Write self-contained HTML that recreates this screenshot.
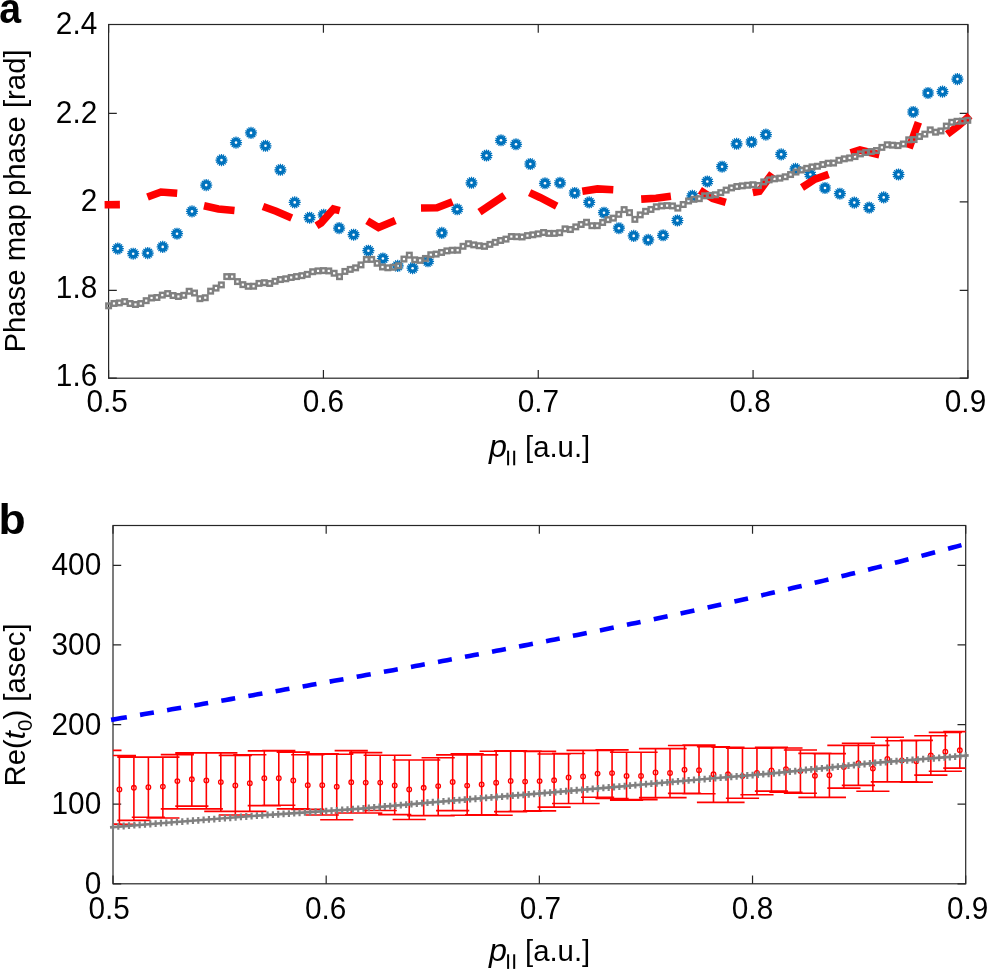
<!DOCTYPE html><html><head><meta charset="utf-8"><title>Figure</title><style>html,body{margin:0;padding:0;background:#fff;}svg{display:block;}text{-webkit-font-smoothing:antialiased;}</style></head><body>
<svg width="987" height="970" viewBox="0 0 987 970">
<defs>
<clipPath id="cb"><rect x="113" y="525.5" width="852.7" height="358.3"/></clipPath>
<g id="gm"><polygon points="-0.60,-6.07 0.60,-6.07 0.61,-4.76 1.26,-4.63 1.77,-5.84 2.88,-5.38 2.39,-4.16 2.93,-3.80 3.87,-4.72 4.72,-3.87 3.80,-2.93 4.16,-2.39 5.38,-2.88 5.84,-1.77 4.63,-1.26 4.76,-0.61 6.07,-0.60 6.07,0.60 4.76,0.61 4.63,1.26 5.84,1.77 5.38,2.88 4.16,2.39 3.80,2.93 4.72,3.87 3.87,4.72 2.93,3.80 2.39,4.16 2.88,5.38 1.77,5.84 1.26,4.63 0.61,4.76 0.60,6.07 -0.60,6.07 -0.61,4.76 -1.26,4.63 -1.77,5.84 -2.88,5.38 -2.39,4.16 -2.93,3.80 -3.87,4.72 -4.72,3.87 -3.80,2.93 -4.16,2.39 -5.38,2.88 -5.84,1.77 -4.63,1.26 -4.76,0.61 -6.07,0.60 -6.07,-0.60 -4.76,-0.61 -4.63,-1.26 -5.84,-1.77 -5.38,-2.88 -4.16,-2.39 -3.80,-2.93 -4.72,-3.87 -3.87,-4.72 -2.93,-3.80 -2.39,-4.16 -2.88,-5.38 -1.77,-5.84 -1.26,-4.63 -0.61,-4.76" fill="#0072BD"/><circle r="1.3" fill="#fff"/></g>
</defs>
<rect width="987" height="970" fill="#fff"/>
<g stroke="#262626" stroke-width="1.2" fill="none">
<rect x="108.6" y="24.5" width="859.3" height="353.7"/>
<path d="M108.6,378.2v-8.2M108.6,24.5v8.2M323.42,378.2v-8.2M323.42,24.5v8.2M538.25,378.2v-8.2M538.25,24.5v8.2M753.07,378.2v-8.2M753.07,24.5v8.2M967.9,378.2v-8.2M967.9,24.5v8.2M108.6,24.5h8.2M967.9,24.5h-8.2M108.6,113.3h8.2M967.9,113.3h-8.2M108.6,201.8h8.2M967.9,201.8h-8.2M108.6,290.3h8.2M967.9,290.3h-8.2M108.6,378.2h8.2M967.9,378.2h-8.2"/>
</g>
<g stroke="#262626" stroke-width="1.2" fill="none">
<rect x="113" y="525.5" width="852.7" height="358.3"/>
<path d="M113,883.8v-8.2M113,525.5v8.2M326.18,883.8v-8.2M326.18,525.5v8.2M539.35,883.8v-8.2M539.35,525.5v8.2M752.53,883.8v-8.2M752.53,525.5v8.2M965.7,883.8v-8.2M965.7,525.5v8.2M113,883.8h8.2M965.7,883.8h-8.2M113,804.18h8.2M965.7,804.18h-8.2M113,724.56h8.2M965.7,724.56h-8.2M113,644.93h8.2M965.7,644.93h-8.2M113,565.31h8.2M965.7,565.31h-8.2"/>
</g>
<g>
<use href="#gm" x="117.8" y="248.6"/>
<use href="#gm" x="133.2" y="253.7"/>
<use href="#gm" x="147.7" y="253.1"/>
<use href="#gm" x="162.7" y="246.9"/>
<use href="#gm" x="177" y="233.7"/>
<use href="#gm" x="192" y="211.4"/>
<use href="#gm" x="206.2" y="185.1"/>
<use href="#gm" x="221.5" y="160.1"/>
<use href="#gm" x="236" y="142.6"/>
<use href="#gm" x="251" y="132.9"/>
<use href="#gm" x="265.5" y="145.8"/>
<use href="#gm" x="280.4" y="169.8"/>
<use href="#gm" x="294.7" y="202.4"/>
<use href="#gm" x="309.6" y="217.7"/>
<use href="#gm" x="323.7" y="214.9"/>
<use href="#gm" x="339.1" y="228.1"/>
<use href="#gm" x="353.6" y="234.7"/>
<use href="#gm" x="368.4" y="250.7"/>
<use href="#gm" x="382.9" y="258.5"/>
<use href="#gm" x="397.7" y="265.9"/>
<use href="#gm" x="412.6" y="268.2"/>
<use href="#gm" x="428" y="261.3"/>
<use href="#gm" x="441.8" y="232.9"/>
<use href="#gm" x="457.2" y="209.3"/>
<use href="#gm" x="471.5" y="182.8"/>
<use href="#gm" x="486.5" y="155.5"/>
<use href="#gm" x="501" y="140.3"/>
<use href="#gm" x="516" y="144.3"/>
<use href="#gm" x="530.3" y="164"/>
<use href="#gm" x="545" y="183.3"/>
<use href="#gm" x="560" y="182.8"/>
<use href="#gm" x="574.7" y="193"/>
<use href="#gm" x="589.2" y="202.4"/>
<use href="#gm" x="604" y="212.7"/>
<use href="#gm" x="618.9" y="228.2"/>
<use href="#gm" x="633.7" y="235.9"/>
<use href="#gm" x="648.2" y="239.9"/>
<use href="#gm" x="663.1" y="235.3"/>
<use href="#gm" x="677.4" y="220.5"/>
<use href="#gm" x="692.4" y="195.8"/>
<use href="#gm" x="707.3" y="181.5"/>
<use href="#gm" x="722.1" y="166.7"/>
<use href="#gm" x="736.6" y="143.8"/>
<use href="#gm" x="751.5" y="142"/>
<use href="#gm" x="765.9" y="134.6"/>
<use href="#gm" x="781.2" y="154.4"/>
<use href="#gm" x="795.5" y="168.9"/>
<use href="#gm" x="810.3" y="174.5"/>
<use href="#gm" x="825" y="188"/>
<use href="#gm" x="839.9" y="193.7"/>
<use href="#gm" x="854.3" y="202.6"/>
<use href="#gm" x="869.2" y="207.6"/>
<use href="#gm" x="883.7" y="197.4"/>
<use href="#gm" x="898.5" y="174.5"/>
<use href="#gm" x="913.2" y="112"/>
<use href="#gm" x="928" y="93"/>
<use href="#gm" x="942.5" y="91.6"/>
<use href="#gm" x="957.4" y="79.1"/>
</g>
<g fill="none" stroke="#FF0000" stroke-width="7.6" stroke-linecap="butt" stroke-linejoin="miter">
<polyline points="104.6,204.8 119.9,204.6"/>
<polyline points="147.5,197 161,192 177.2,193.3"/>
<polyline points="204,205.8 218.4,209 234.5,210.5"/>
<polyline points="263,206.5 276.1,211.3 291.7,217.9"/>
<polyline points="316.5,225.8 321,223 333.5,209 339.8,210.6"/>
<polyline points="367.2,220.8 378.5,227.6 395.3,220.6"/>
<polyline points="421,208 437,207.8 452.5,201.7"/>
<polyline points="479.5,212.1 504.5,195.4"/>
<polyline points="529.6,192.6 540,197.5 556.7,206.2"/>
<polyline points="582.3,191.3 597.5,188.9 613.3,189.8"/>
<polyline points="641.2,199.1 656,198.2 670.9,196.3"/>
<polyline points="699.9,190.2 712.8,198.6 725.8,202.3"/>
<polyline points="752.8,192.5 759.3,191.2 772.2,173.5"/>
<polyline points="802,187.5 815,179.1 828.6,174.4"/>
<polyline points="850.6,152.8 859.9,150 879.4,154.7"/>
<polyline points="909.1,148.2 918.4,122.2"/>
<polyline points="947.2,134.3 958.3,125.9 970,115.7"/>
</g>
<g fill="none" stroke="#808080" stroke-width="2.4">
<rect x="106.3" y="303.51" width="4.6" height="4.6"/>
<rect x="111.67" y="301.16" width="4.6" height="4.6"/>
<rect x="117.04" y="300.61" width="4.6" height="4.6"/>
<rect x="122.41" y="299.28" width="4.6" height="4.6"/>
<rect x="127.78" y="301.21" width="4.6" height="4.6"/>
<rect x="133.15" y="302.19" width="4.6" height="4.6"/>
<rect x="138.52" y="301.23" width="4.6" height="4.6"/>
<rect x="143.89" y="298.37" width="4.6" height="4.6"/>
<rect x="149.26" y="295.69" width="4.6" height="4.6"/>
<rect x="154.63" y="295.21" width="4.6" height="4.6"/>
<rect x="160" y="292.79" width="4.6" height="4.6"/>
<rect x="165.37" y="291.26" width="4.6" height="4.6"/>
<rect x="170.74" y="293.21" width="4.6" height="4.6"/>
<rect x="176.11" y="294.18" width="4.6" height="4.6"/>
<rect x="181.48" y="293.01" width="4.6" height="4.6"/>
<rect x="186.85" y="288.96" width="4.6" height="4.6"/>
<rect x="192.22" y="290.72" width="4.6" height="4.6"/>
<rect x="197.59" y="296.38" width="4.6" height="4.6"/>
<rect x="202.96" y="295.43" width="4.6" height="4.6"/>
<rect x="208.33" y="288.86" width="4.6" height="4.6"/>
<rect x="213.7" y="285.8" width="4.6" height="4.6"/>
<rect x="219.07" y="282.59" width="4.6" height="4.6"/>
<rect x="224.44" y="274.3" width="4.6" height="4.6"/>
<rect x="229.81" y="274.3" width="4.6" height="4.6"/>
<rect x="235.18" y="279.28" width="4.6" height="4.6"/>
<rect x="240.55" y="282.34" width="4.6" height="4.6"/>
<rect x="245.92" y="284" width="4.6" height="4.6"/>
<rect x="251.29" y="283.94" width="4.6" height="4.6"/>
<rect x="256.66" y="281.09" width="4.6" height="4.6"/>
<rect x="262.03" y="280.38" width="4.6" height="4.6"/>
<rect x="267.4" y="281.17" width="4.6" height="4.6"/>
<rect x="272.77" y="278.96" width="4.6" height="4.6"/>
<rect x="278.14" y="277.25" width="4.6" height="4.6"/>
<rect x="283.51" y="276.48" width="4.6" height="4.6"/>
<rect x="288.88" y="275.17" width="4.6" height="4.6"/>
<rect x="294.25" y="274.28" width="4.6" height="4.6"/>
<rect x="299.62" y="273.36" width="4.6" height="4.6"/>
<rect x="304.99" y="272.05" width="4.6" height="4.6"/>
<rect x="310.36" y="269.42" width="4.6" height="4.6"/>
<rect x="315.73" y="268.6" width="4.6" height="4.6"/>
<rect x="321.1" y="268.3" width="4.6" height="4.6"/>
<rect x="326.47" y="268.63" width="4.6" height="4.6"/>
<rect x="331.84" y="270.94" width="4.6" height="4.6"/>
<rect x="337.21" y="274.39" width="4.6" height="4.6"/>
<rect x="342.58" y="269.13" width="4.6" height="4.6"/>
<rect x="347.95" y="267.1" width="4.6" height="4.6"/>
<rect x="353.32" y="265.54" width="4.6" height="4.6"/>
<rect x="358.69" y="262.6" width="4.6" height="4.6"/>
<rect x="364.06" y="257.1" width="4.6" height="4.6"/>
<rect x="369.43" y="257.1" width="4.6" height="4.6"/>
<rect x="374.8" y="260.96" width="4.6" height="4.6"/>
<rect x="380.17" y="264.69" width="4.6" height="4.6"/>
<rect x="385.54" y="265.5" width="4.6" height="4.6"/>
<rect x="390.91" y="264.96" width="4.6" height="4.6"/>
<rect x="396.28" y="263.49" width="4.6" height="4.6"/>
<rect x="401.65" y="256.76" width="4.6" height="4.6"/>
<rect x="407.02" y="252.86" width="4.6" height="4.6"/>
<rect x="412.39" y="257.49" width="4.6" height="4.6"/>
<rect x="417.76" y="258.1" width="4.6" height="4.6"/>
<rect x="423.13" y="256.14" width="4.6" height="4.6"/>
<rect x="428.5" y="252.44" width="4.6" height="4.6"/>
<rect x="433.87" y="251.79" width="4.6" height="4.6"/>
<rect x="439.24" y="250.15" width="4.6" height="4.6"/>
<rect x="444.61" y="248.58" width="4.6" height="4.6"/>
<rect x="449.98" y="247.93" width="4.6" height="4.6"/>
<rect x="455.35" y="247.9" width="4.6" height="4.6"/>
<rect x="460.72" y="243.99" width="4.6" height="4.6"/>
<rect x="466.09" y="241.42" width="4.6" height="4.6"/>
<rect x="471.46" y="242.57" width="4.6" height="4.6"/>
<rect x="476.83" y="243.46" width="4.6" height="4.6"/>
<rect x="482.2" y="244.05" width="4.6" height="4.6"/>
<rect x="487.57" y="242.08" width="4.6" height="4.6"/>
<rect x="492.94" y="240" width="4.6" height="4.6"/>
<rect x="498.31" y="238.19" width="4.6" height="4.6"/>
<rect x="503.68" y="236.81" width="4.6" height="4.6"/>
<rect x="509.05" y="234.22" width="4.6" height="4.6"/>
<rect x="514.42" y="234.41" width="4.6" height="4.6"/>
<rect x="519.79" y="234.67" width="4.6" height="4.6"/>
<rect x="525.16" y="233.31" width="4.6" height="4.6"/>
<rect x="530.53" y="232.5" width="4.6" height="4.6"/>
<rect x="535.9" y="231.56" width="4.6" height="4.6"/>
<rect x="541.27" y="230.22" width="4.6" height="4.6"/>
<rect x="546.64" y="231.1" width="4.6" height="4.6"/>
<rect x="552.01" y="231.1" width="4.6" height="4.6"/>
<rect x="557.38" y="230.43" width="4.6" height="4.6"/>
<rect x="562.75" y="226.55" width="4.6" height="4.6"/>
<rect x="568.12" y="227.24" width="4.6" height="4.6"/>
<rect x="573.49" y="224.58" width="4.6" height="4.6"/>
<rect x="578.86" y="222.18" width="4.6" height="4.6"/>
<rect x="584.23" y="219.96" width="4.6" height="4.6"/>
<rect x="589.6" y="223.4" width="4.6" height="4.6"/>
<rect x="594.97" y="223.39" width="4.6" height="4.6"/>
<rect x="600.34" y="220.19" width="4.6" height="4.6"/>
<rect x="605.71" y="217.37" width="4.6" height="4.6"/>
<rect x="611.08" y="215.84" width="4.6" height="4.6"/>
<rect x="616.45" y="212.03" width="4.6" height="4.6"/>
<rect x="621.82" y="207.3" width="4.6" height="4.6"/>
<rect x="627.19" y="210.36" width="4.6" height="4.6"/>
<rect x="632.56" y="217.07" width="4.6" height="4.6"/>
<rect x="637.93" y="212.58" width="4.6" height="4.6"/>
<rect x="643.3" y="209.03" width="4.6" height="4.6"/>
<rect x="648.67" y="207.15" width="4.6" height="4.6"/>
<rect x="654.04" y="204.49" width="4.6" height="4.6"/>
<rect x="659.41" y="203.62" width="4.6" height="4.6"/>
<rect x="664.78" y="203.3" width="4.6" height="4.6"/>
<rect x="670.15" y="203.63" width="4.6" height="4.6"/>
<rect x="675.52" y="205.82" width="4.6" height="4.6"/>
<rect x="680.89" y="202.21" width="4.6" height="4.6"/>
<rect x="686.26" y="198.68" width="4.6" height="4.6"/>
<rect x="691.63" y="197.02" width="4.6" height="4.6"/>
<rect x="697" y="196.37" width="4.6" height="4.6"/>
<rect x="702.37" y="193.54" width="4.6" height="4.6"/>
<rect x="707.74" y="193.12" width="4.6" height="4.6"/>
<rect x="713.11" y="192.46" width="4.6" height="4.6"/>
<rect x="718.48" y="190.33" width="4.6" height="4.6"/>
<rect x="723.85" y="187.8" width="4.6" height="4.6"/>
<rect x="729.22" y="185.61" width="4.6" height="4.6"/>
<rect x="734.59" y="184.23" width="4.6" height="4.6"/>
<rect x="739.96" y="183.56" width="4.6" height="4.6"/>
<rect x="745.33" y="182.95" width="4.6" height="4.6"/>
<rect x="750.7" y="182.43" width="4.6" height="4.6"/>
<rect x="756.07" y="183.17" width="4.6" height="4.6"/>
<rect x="761.44" y="179.59" width="4.6" height="4.6"/>
<rect x="766.81" y="177.59" width="4.6" height="4.6"/>
<rect x="772.18" y="176.53" width="4.6" height="4.6"/>
<rect x="777.55" y="175.86" width="4.6" height="4.6"/>
<rect x="782.92" y="174.48" width="4.6" height="4.6"/>
<rect x="788.29" y="172.25" width="4.6" height="4.6"/>
<rect x="793.66" y="169.75" width="4.6" height="4.6"/>
<rect x="799.03" y="167.72" width="4.6" height="4.6"/>
<rect x="804.4" y="166.05" width="4.6" height="4.6"/>
<rect x="809.77" y="164.6" width="4.6" height="4.6"/>
<rect x="815.14" y="163.95" width="4.6" height="4.6"/>
<rect x="820.51" y="162.24" width="4.6" height="4.6"/>
<rect x="825.88" y="160.93" width="4.6" height="4.6"/>
<rect x="831.25" y="160.75" width="4.6" height="4.6"/>
<rect x="836.62" y="158" width="4.6" height="4.6"/>
<rect x="841.99" y="156.53" width="4.6" height="4.6"/>
<rect x="847.36" y="155.63" width="4.6" height="4.6"/>
<rect x="852.73" y="154.27" width="4.6" height="4.6"/>
<rect x="858.1" y="151.6" width="4.6" height="4.6"/>
<rect x="863.47" y="150.21" width="4.6" height="4.6"/>
<rect x="868.84" y="149.25" width="4.6" height="4.6"/>
<rect x="874.21" y="148.23" width="4.6" height="4.6"/>
<rect x="879.58" y="145.09" width="4.6" height="4.6"/>
<rect x="884.95" y="142.47" width="4.6" height="4.6"/>
<rect x="890.32" y="142.87" width="4.6" height="4.6"/>
<rect x="895.69" y="143.3" width="4.6" height="4.6"/>
<rect x="901.06" y="141.69" width="4.6" height="4.6"/>
<rect x="906.43" y="137.5" width="4.6" height="4.6"/>
<rect x="911.8" y="137.27" width="4.6" height="4.6"/>
<rect x="917.17" y="134.22" width="4.6" height="4.6"/>
<rect x="922.54" y="131.8" width="4.6" height="4.6"/>
<rect x="927.91" y="127.58" width="4.6" height="4.6"/>
<rect x="933.28" y="129.89" width="4.6" height="4.6"/>
<rect x="938.65" y="128.65" width="4.6" height="4.6"/>
<rect x="944.02" y="123.77" width="4.6" height="4.6"/>
<rect x="949.39" y="119.97" width="4.6" height="4.6"/>
<rect x="954.76" y="119" width="4.6" height="4.6"/>
<rect x="960.13" y="118.8" width="4.6" height="4.6"/>
<rect x="965.5" y="118.01" width="4.6" height="4.6"/>
</g>
<g fill="none" stroke="#0000FF" stroke-width="4.6" stroke-linecap="butt">
<polyline points="111.1,719.89 116.21,719 121.53,718.08 126.85,717.15"/>
<polyline points="140.04,714.86 144.51,714.08 149.19,713.27 153.87,712.45"/>
<polyline points="167.07,710.16 171.75,709.35 176.43,708.53 181.11,707.72"/>
<polyline points="194.31,705.42 198.77,704.65 203.46,703.83 208.14,703.02"/>
<polyline points="221.33,700.72 225.8,699.94 230.48,699.12 235.16,698.3"/>
<polyline points="248.36,695.99 253.04,695.17 257.72,694.35 262.4,693.53"/>
<polyline points="275.6,691.21 280.07,690.42 284.75,689.6 289.43,688.77"/>
<polyline points="302.62,686.44 307.09,685.64 311.77,684.81 316.46,683.98"/>
<polyline points="329.65,681.63 334.12,680.83 338.8,679.99 343.48,679.15"/>
<polyline points="356.67,676.78 361.36,675.94 366.04,675.09 370.72,674.24"/>
<polyline points="383.91,671.85 388.38,671.04 393.06,670.18 397.75,669.33"/>
<polyline points="410.94,666.91 415.41,666.08 420.09,665.22 424.77,664.35"/>
<polyline points="437.97,661.9 442.43,661.07 447.12,660.2 451.8,659.32"/>
<polyline points="464.99,656.84 469.46,655.99 474.14,655.11 478.82,654.22"/>
<polyline points="492.02,651.7 496.49,650.84 501.17,649.95 505.85,649.04"/>
<polyline points="519.04,646.49 523.51,645.62 528.19,644.71 532.88,643.79"/>
<polyline points="546.07,641.2 550.54,640.31 555.01,639.43 559.69,638.49"/>
<polyline points="572.88,635.86 577.35,634.96 582.03,634.01 586.72,633.07"/>
<polyline points="599.91,630.38 604.38,629.47 609.06,628.51 613.74,627.54"/>
<polyline points="626.93,624.81 631.4,623.87 635.87,622.94 640.55,621.96"/>
<polyline points="653.75,619.17 658.22,618.22 662.9,617.22 667.58,616.22"/>
<polyline points="680.56,613.42 685.03,612.46 689.71,611.44 694.39,610.41"/>
<polyline points="707.59,607.51 712.06,606.53 716.53,605.53 721.21,604.49"/>
<polyline points="734.4,601.53 738.87,600.52 743.34,599.51 748.02,598.44"/>
<polyline points="761.21,595.42 765.68,594.38 770.15,593.35 774.83,592.26"/>
<polyline points="788.03,589.17 792.5,588.11 796.96,587.06 801.65,585.94"/>
<polyline points="814.63,582.83 819.1,581.75 823.78,580.62 828.46,579.48"/>
<polyline points="841.44,576.3 845.91,575.2 850.38,574.09 855.06,572.93"/>
<polyline points="868.04,569.67 872.51,568.54 877.19,567.36 881.87,566.16"/>
<polyline points="894.85,562.83 899.32,561.68 903.79,560.52 908.47,559.3"/>
<polyline points="921.45,555.89 925.92,554.7 930.39,553.52 935.07,552.27"/>
<polyline points="948.05,548.77 952.52,547.56 956.99,546.35 961.46,545.12"/>
</g>
<g clip-path="url(#cb)">
<g fill="none" stroke="#FF0000" stroke-width="1.6">
<path d="M88.31,750.4h33.2M88.31,824h33.2M119.4,755.5V824.3M102.8,755.5h33.2M102.8,824.3h33.2M133.89,757.1V820.4M117.29,757.1h33.2M117.29,820.4h33.2M148.38,757.3V817.3M131.78,757.3h33.2M131.78,817.3h33.2M162.87,757.1V818M146.27,757.1h33.2M146.27,818h33.2M177.36,754.6V808.9M160.76,754.6h33.2M160.76,808.9h33.2M191.85,752.9V806.1M175.25,752.9h33.2M175.25,806.1h33.2M206.34,752.9V808.9M189.74,752.9h33.2M189.74,808.9h33.2M220.83,752.9V811.4M204.23,752.9h33.2M204.23,811.4h33.2M235.32,755.4V815M218.72,755.4h33.2M218.72,815h33.2M249.81,754.8V811.4M233.21,754.8h33.2M233.21,811.4h33.2M264.3,750.9V805.6M247.7,750.9h33.2M247.7,805.6h33.2M278.79,750.6V805.3M262.19,750.6h33.2M262.19,805.3h33.2M293.28,752.1V808.9M276.68,752.1h33.2M276.68,808.9h33.2M307.77,754.7V809.4M291.17,754.7h33.2M291.17,809.4h33.2M322.26,753.9V815M305.66,753.9h33.2M305.66,815h33.2M336.75,754.2V819.7M320.15,754.2h33.2M320.15,819.7h33.2M351.24,750.6V813M334.64,750.6h33.2M334.64,813h33.2M365.73,752.6V813M349.13,752.6h33.2M349.13,813h33.2M380.22,755.3V810.5M363.62,755.3h33.2M363.62,810.5h33.2M394.71,755.3V814.6M378.11,755.3h33.2M378.11,814.6h33.2M409.2,760V819.5M392.6,760h33.2M392.6,819.5h33.2M423.69,760V815.6M407.09,760h33.2M407.09,815.6h33.2M438.18,757.7V815.6M421.58,757.7h33.2M421.58,815.6h33.2M452.67,754.9V810.6M436.07,754.9h33.2M436.07,810.6h33.2M467.16,753.9V815.2M450.56,753.9h33.2M450.56,815.2h33.2M481.65,754.9V814.7M465.05,754.9h33.2M465.05,814.7h33.2M496.14,751.3V815.2M479.54,751.3h33.2M479.54,815.2h33.2M510.63,750.8V811.6M494.03,750.8h33.2M494.03,811.6h33.2M525.12,751.1V811.2M508.52,751.1h33.2M508.52,811.2h33.2M539.61,751.4V810.9M523.01,751.4h33.2M523.01,810.9h33.2M554.1,754V807.1M537.5,754h33.2M537.5,807.1h33.2M568.59,753.5V803.5M551.99,753.5h33.2M551.99,803.5h33.2M583.08,750.4V803.5M566.48,750.4h33.2M566.48,803.5h33.2M597.57,750.4V797.3M580.97,750.4h33.2M580.97,797.3h33.2M612.06,749.9V798.5M595.46,749.9h33.2M595.46,798.5h33.2M626.55,752.2V800.1M609.95,752.2h33.2M609.95,800.1h33.2M641.04,752.2V799.6M624.44,752.2h33.2M624.44,799.6h33.2M655.53,748.6V797.6M638.93,748.6h33.2M638.93,797.6h33.2M670.02,748.6V797.6M653.42,748.6h33.2M653.42,797.6h33.2M684.51,745.5V793.4M667.91,745.5h33.2M667.91,793.4h33.2M699,745.1V793.7M682.4,745.1h33.2M682.4,793.7h33.2M713.49,746.8V802.4M696.89,746.8h33.2M696.89,802.4h33.2M727.98,747.3V802.4M711.38,747.3h33.2M711.38,802.4h33.2M742.47,748.3V798.3M725.87,748.3h33.2M725.87,798.3h33.2M756.96,748.3V794.7M740.36,748.3h33.2M740.36,794.7h33.2M771.45,747.3V791.1M754.85,747.3h33.2M754.85,791.1h33.2M785.94,748V792.2M769.34,748h33.2M769.34,792.2h33.2M800.43,750V793.3M783.83,750h33.2M783.83,793.3h33.2M814.92,753.4V797.4M798.32,753.4h33.2M798.32,797.4h33.2M829.41,753.6V797.4M812.81,753.6h33.2M812.81,797.4h33.2M843.9,745.4V788.1M827.3,745.4h33.2M827.3,788.1h33.2M858.39,743.3V785.4M841.79,743.3h33.2M841.79,785.4h33.2M872.88,745.4V791.3M856.28,745.4h33.2M856.28,791.3h33.2M887.37,737.3V781.9M870.77,737.3h33.2M870.77,781.9h33.2M901.86,740.7V781.9M885.26,740.7h33.2M885.26,781.9h33.2M916.35,740.4V782.1M899.75,740.4h33.2M899.75,782.1h33.2M930.84,735.7V775.1M914.24,735.7h33.2M914.24,775.1h33.2M945.33,732.4V771.3M928.73,732.4h33.2M928.73,771.3h33.2M959.82,731.6V768.1M943.22,731.6h33.2M943.22,768.1h33.2"/>
</g>
<g fill="none" stroke="#FF0000" stroke-width="1.3">
<circle cx="119.4" cy="789.5" r="2.3"/>
<circle cx="133.89" cy="787.8" r="2.3"/>
<circle cx="148.38" cy="787.2" r="2.3"/>
<circle cx="162.87" cy="786.6" r="2.3"/>
<circle cx="177.36" cy="781.1" r="2.3"/>
<circle cx="191.85" cy="779.3" r="2.3"/>
<circle cx="206.34" cy="780.4" r="2.3"/>
<circle cx="220.83" cy="782.1" r="2.3"/>
<circle cx="235.32" cy="785.5" r="2.3"/>
<circle cx="249.81" cy="783.2" r="2.3"/>
<circle cx="264.3" cy="778.2" r="2.3"/>
<circle cx="278.79" cy="778.2" r="2.3"/>
<circle cx="293.28" cy="780.5" r="2.3"/>
<circle cx="307.77" cy="785.2" r="2.3"/>
<circle cx="322.26" cy="785.2" r="2.3"/>
<circle cx="336.75" cy="786.7" r="2.3"/>
<circle cx="351.24" cy="782.3" r="2.3"/>
<circle cx="365.73" cy="782.6" r="2.3"/>
<circle cx="380.22" cy="782.6" r="2.3"/>
<circle cx="394.71" cy="785.5" r="2.3"/>
<circle cx="409.2" cy="789.5" r="2.3"/>
<circle cx="423.69" cy="787.8" r="2.3"/>
<circle cx="438.18" cy="786.1" r="2.3"/>
<circle cx="452.67" cy="782" r="2.3"/>
<circle cx="467.16" cy="785.6" r="2.3"/>
<circle cx="481.65" cy="784.5" r="2.3"/>
<circle cx="496.14" cy="782.7" r="2.3"/>
<circle cx="510.63" cy="781" r="2.3"/>
<circle cx="525.12" cy="781.6" r="2.3"/>
<circle cx="539.61" cy="781.1" r="2.3"/>
<circle cx="554.1" cy="780.3" r="2.3"/>
<circle cx="568.59" cy="777.5" r="2.3"/>
<circle cx="583.08" cy="776.5" r="2.3"/>
<circle cx="597.57" cy="773.6" r="2.3"/>
<circle cx="612.06" cy="773.1" r="2.3"/>
<circle cx="626.55" cy="775.9" r="2.3"/>
<circle cx="641.04" cy="775.9" r="2.3"/>
<circle cx="655.53" cy="772.5" r="2.3"/>
<circle cx="670.02" cy="773" r="2.3"/>
<circle cx="684.51" cy="769.7" r="2.3"/>
<circle cx="699" cy="770.2" r="2.3"/>
<circle cx="713.49" cy="774.3" r="2.3"/>
<circle cx="727.98" cy="774.3" r="2.3"/>
<circle cx="742.47" cy="776.1" r="2.3"/>
<circle cx="756.96" cy="773" r="2.3"/>
<circle cx="771.45" cy="770.5" r="2.3"/>
<circle cx="785.94" cy="769.1" r="2.3"/>
<circle cx="800.43" cy="771.1" r="2.3"/>
<circle cx="814.92" cy="775.8" r="2.3"/>
<circle cx="829.41" cy="775.3" r="2.3"/>
<circle cx="843.9" cy="767" r="2.3"/>
<circle cx="858.39" cy="763.1" r="2.3"/>
<circle cx="872.88" cy="768.6" r="2.3"/>
<circle cx="887.37" cy="758.9" r="2.3"/>
<circle cx="901.86" cy="760.5" r="2.3"/>
<circle cx="916.35" cy="761.3" r="2.3"/>
<circle cx="930.84" cy="755.4" r="2.3"/>
<circle cx="945.33" cy="751.7" r="2.3"/>
<circle cx="959.82" cy="750.3" r="2.3"/>
</g>
</g>
<polyline points="110,827.3 170,822.5 258,815.6 358,808.9 432,802.3 532,794.1 605,787.8 705,779 775,773.2 875,762.9 968.7,755.4" fill="none" stroke="#808080" stroke-width="2.7"/>
<path d="M113,823.38v6.8M118.33,822.98v6.8M123.66,822.58v6.8M128.99,822.18v6.8M134.32,821.78v6.8M139.65,821.38v6.8M144.98,820.98v6.8M150.31,820.58v6.8M155.64,820.18v6.8M160.97,819.78v6.8M166.3,819.38v6.8M171.63,818.97v6.8M176.96,818.55v6.8M182.29,818.14v6.8M187.62,817.72v6.8M192.95,817.3v6.8M198.28,816.88v6.8M203.61,816.46v6.8M208.94,816.05v6.8M214.27,815.63v6.8M219.6,815.21v6.8M224.93,814.79v6.8M230.26,814.38v6.8M235.59,813.96v6.8M240.92,813.54v6.8M246.25,813.12v6.8M251.58,812.7v6.8M256.91,812.29v6.8M262.24,811.92v6.8M267.57,811.56v6.8M272.9,811.2v6.8M278.23,810.84v6.8M283.56,810.49v6.8M288.89,810.13v6.8M294.22,809.77v6.8M299.55,809.42v6.8M304.88,809.06v6.8M310.21,808.7v6.8M315.54,808.34v6.8M320.87,807.99v6.8M326.2,807.63v6.8M331.53,807.27v6.8M336.86,806.92v6.8M342.19,806.56v6.8M347.52,806.2v6.8M352.85,805.85v6.8M358.18,805.48v6.8M363.51,805.01v6.8M368.84,804.53v6.8M374.17,804.06v6.8M379.5,803.58v6.8M384.83,803.11v6.8M390.16,802.63v6.8M395.49,802.16v6.8M400.82,801.68v6.8M406.15,801.21v6.8M411.48,800.73v6.8M416.81,800.25v6.8M422.14,799.78v6.8M427.47,799.3v6.8M432.8,798.83v6.8M438.13,798.4v6.8M443.46,797.96v6.8M448.79,797.52v6.8M454.12,797.09v6.8M459.45,796.65v6.8M464.78,796.21v6.8M470.11,795.77v6.8M475.44,795.34v6.8M480.77,794.9v6.8M486.1,794.46v6.8M491.43,794.03v6.8M496.76,793.59v6.8M502.09,793.15v6.8M507.42,792.72v6.8M512.75,792.28v6.8M518.08,791.84v6.8M523.41,791.4v6.8M528.74,790.97v6.8M534.07,790.52v6.8M539.4,790.06v6.8M544.73,789.6v6.8M550.06,789.14v6.8M555.39,788.68v6.8M560.72,788.22v6.8M566.05,787.76v6.8M571.38,787.3v6.8M576.71,786.84v6.8M582.04,786.38v6.8M587.37,785.92v6.8M592.7,785.46v6.8M598.03,785v6.8M603.36,784.54v6.8M608.69,784.08v6.8M614.02,783.61v6.8M619.35,783.14v6.8M624.68,782.67v6.8M630.01,782.2v6.8M635.34,781.73v6.8M640.67,781.26v6.8M646,780.79v6.8M651.33,780.32v6.8M656.66,779.85v6.8M661.99,779.38v6.8M667.32,778.92v6.8M672.65,778.45v6.8M677.98,777.98v6.8M683.31,777.51v6.8M688.64,777.04v6.8M693.97,776.57v6.8M699.3,776.1v6.8M704.63,775.63v6.8M709.96,775.19v6.8M715.29,774.75v6.8M720.62,774.31v6.8M725.95,773.86v6.8M731.28,773.42v6.8M736.61,772.98v6.8M741.94,772.54v6.8M747.27,772.1v6.8M752.6,771.66v6.8M757.93,771.21v6.8M763.26,770.77v6.8M768.59,770.33v6.8M773.92,769.89v6.8M779.25,769.36v6.8M784.58,768.81v6.8M789.91,768.26v6.8M795.24,767.72v6.8M800.57,767.17v6.8M805.9,766.62v6.8M811.23,766.07v6.8M816.56,765.52v6.8M821.89,764.97v6.8M827.22,764.42v6.8M832.55,763.87v6.8M837.88,763.32v6.8M843.21,762.77v6.8M848.54,762.23v6.8M853.87,761.68v6.8M859.2,761.13v6.8M864.53,760.58v6.8M869.86,760.03v6.8M875.19,759.49v6.8M880.52,759.07v6.8M885.85,758.65v6.8M891.18,758.23v6.8M896.51,757.81v6.8M901.84,757.39v6.8M907.17,756.97v6.8M912.5,756.56v6.8M917.83,756.14v6.8M923.16,755.72v6.8M928.49,755.3v6.8M933.82,754.88v6.8M939.15,754.46v6.8M944.48,754.05v6.8M949.81,753.63v6.8M955.14,753.21v6.8M960.47,752.79v6.8M965.8,752.37v6.8" stroke="#808080" stroke-width="2.2" fill="none"/>
<g opacity="0.999">
<text transform="translate(107.1,411.6) scale(0.96,1)" font-size="31" text-anchor="middle" font-family="Liberation Sans, sans-serif" fill="#000">0.5</text>
<text transform="translate(323.4,411.6) scale(0.96,1)" font-size="31" text-anchor="middle" font-family="Liberation Sans, sans-serif" fill="#000">0.6</text>
<text transform="translate(538.4,411.6) scale(0.96,1)" font-size="31" text-anchor="middle" font-family="Liberation Sans, sans-serif" fill="#000">0.7</text>
<text transform="translate(750.2,411.6) scale(0.96,1)" font-size="31" text-anchor="middle" font-family="Liberation Sans, sans-serif" fill="#000">0.8</text>
<text transform="translate(965.5,411.6) scale(0.96,1)" font-size="31" text-anchor="middle" font-family="Liberation Sans, sans-serif" fill="#000">0.9</text>
<text transform="translate(109.1,918.5) scale(0.96,1)" font-size="31" text-anchor="middle" font-family="Liberation Sans, sans-serif" fill="#000">0.5</text>
<text transform="translate(325.6,918.5) scale(0.96,1)" font-size="31" text-anchor="middle" font-family="Liberation Sans, sans-serif" fill="#000">0.6</text>
<text transform="translate(540.4,918.5) scale(0.96,1)" font-size="31" text-anchor="middle" font-family="Liberation Sans, sans-serif" fill="#000">0.7</text>
<text transform="translate(752.5,918.5) scale(0.96,1)" font-size="31" text-anchor="middle" font-family="Liberation Sans, sans-serif" fill="#000">0.8</text>
<text transform="translate(967.7,918.5) scale(0.96,1)" font-size="31" text-anchor="middle" font-family="Liberation Sans, sans-serif" fill="#000">0.9</text>
<text transform="translate(97.2,34.1) scale(0.96,1)" font-size="31" text-anchor="end" font-family="Liberation Sans, sans-serif" fill="#000">2.4</text>
<text transform="translate(97.2,123.2) scale(0.96,1)" font-size="31" text-anchor="end" font-family="Liberation Sans, sans-serif" fill="#000">2.2</text>
<text transform="translate(97.2,211.2) scale(0.96,1)" font-size="31" text-anchor="end" font-family="Liberation Sans, sans-serif" fill="#000">2</text>
<text transform="translate(97.2,297.8) scale(0.96,1)" font-size="31" text-anchor="end" font-family="Liberation Sans, sans-serif" fill="#000">1.8</text>
<text transform="translate(97.2,385.6) scale(0.96,1)" font-size="31" text-anchor="end" font-family="Liberation Sans, sans-serif" fill="#000">1.6</text>
<text transform="translate(101.2,893.9) scale(0.96,1)" font-size="31" text-anchor="end" font-family="Liberation Sans, sans-serif" fill="#000">0</text>
<text transform="translate(101.2,814.28) scale(0.96,1)" font-size="31" text-anchor="end" font-family="Liberation Sans, sans-serif" fill="#000">100</text>
<text transform="translate(101.2,734.66) scale(0.96,1)" font-size="31" text-anchor="end" font-family="Liberation Sans, sans-serif" fill="#000">200</text>
<text transform="translate(101.2,655.03) scale(0.96,1)" font-size="31" text-anchor="end" font-family="Liberation Sans, sans-serif" fill="#000">300</text>
<text transform="translate(101.2,575.41) scale(0.96,1)" font-size="31" text-anchor="end" font-family="Liberation Sans, sans-serif" fill="#000">400</text>
<text transform="translate(489,457) scale(1.06,1)" font-size="30.5" font-family="Liberation Sans, sans-serif" font-style="italic" fill="#000">p</text>
<text transform="translate(525,457) scale(0.978,1)" font-size="30" font-family="Liberation Sans, sans-serif" fill="#000">[a.u.]</text>
<rect x="507.1" y="450.7" width="2" height="14.6" fill="#000"/><rect x="513.2" y="450.7" width="2" height="14.6" fill="#000"/>
<text transform="translate(489,960.6) scale(1.06,1)" font-size="30.5" font-family="Liberation Sans, sans-serif" font-style="italic" fill="#000">p</text>
<text transform="translate(525,960.6) scale(0.978,1)" font-size="30" font-family="Liberation Sans, sans-serif" fill="#000">[a.u.]</text>
<rect x="507.1" y="954.3" width="2" height="14.6" fill="#000"/><rect x="513.2" y="954.3" width="2" height="14.6" fill="#000"/>
<text transform="translate(24.5,201.0) rotate(-90) scale(0.978,1)" font-size="30" text-anchor="middle" font-family="Liberation Sans, sans-serif" fill="#000">Phase map phase [rad]</text>
<text transform="translate(25.2,704.9) rotate(-90) scale(0.978,1)" font-size="30" text-anchor="middle" font-family="Liberation Sans, sans-serif" fill="#000">Re(<tspan font-style="italic">t</tspan><tspan font-size="21" dy="6.5">0</tspan><tspan dy="-6.5">) [asec]</tspan></text>
<text transform="translate(-0.8,22.8) scale(0.935,1)" font-size="42" font-weight="bold" font-family="Liberation Sans, sans-serif" fill="#000">a</text>
<text transform="translate(-1.4,533.5) scale(1.06,1)" font-size="42" font-weight="bold" font-family="Liberation Sans, sans-serif" fill="#000">b</text>
</g>
</svg></body></html>
